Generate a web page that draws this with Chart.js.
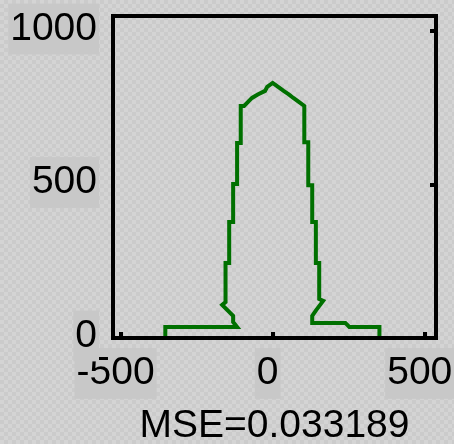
<!DOCTYPE html>
<html lang="en">
  <head>
    <meta charset="UTF-8" />
    <title>MSE histogram</title>
    <script src="https://cdn.jsdelivr.net/npm/chart.js"></script>
    <style>
      body {
        margin: 0;
        background-color: #cfcfcf;
        background-image: repeating-conic-gradient(#cbcbcb 0 25%, #d4d4d4 0 50%);
        background-size: 8px 8px;
      }
    </style>
  </head>
  <body>
    <canvas id="hist" width="454" height="444"></canvas>

    <script>
      // histogram outline
      const binX = [
        -353, -353, -117, -130, -130, -166, -155, -155, -143, -143, -130, -130,
        -117, -117, -105, -105, -94, -81, -68, -49, -25, -18, 0, 18, 36, 54, 68,
        86, 104, 104, 117, 117, 130, 130, 142, 142, 153, 153, 166, 143, 130, 130,
        239, 252, 351, 351,
      ];
      const counts = [
        0, 36, 36, 52, 72, 108, 117, 244, 244, 378, 378, 502, 502, 635, 635, 756,
        756, 769, 782, 793, 805, 818, 831, 818, 805, 793, 782, 769, 756, 638, 638,
        498, 498, 378, 378, 244, 244, 127, 121, 91, 72, 49, 49, 36, 36, 0,
      ];
      const xTicks = [-500, 0, 500];
      const yTicks = [0, 500, 1000];
      const title = "MSE=0.033189";

      const font = { family: "Liberation Sans", size: 39 };

      // black frame plus short inward ticks (bottom and right only)
      const framePlugin = {
        id: "frame",
        afterDatasetsDraw(chart) {
          const { ctx, chartArea: a, scales } = chart;
          ctx.save();
          ctx.fillStyle = "#000";
          scales.x.ticks.forEach((t) => {
            const px = Math.round(scales.x.getPixelForValue(t.value));
            ctx.fillRect(px - 2, a.bottom - 6, 4, 4);
          });
          scales.y.ticks.forEach((t) => {
            const py = Math.round(scales.y.getPixelForValue(t.value));
            ctx.fillRect(a.right - 6, py - 2, 4, 4);
          });
          ctx.strokeStyle = "#000";
          ctx.lineWidth = 4;
          ctx.strokeRect(a.left, a.top, a.right - a.left, a.bottom - a.top);
          ctx.restore();
        },
      };

      new Chart(document.getElementById("hist"), {
        type: "scatter",
        data: {
          datasets: [
            {
              data: binX.map((x, i) => ({ x: x, y: counts[i] })),
              showLine: true,
              borderColor: "#007000",
              borderWidth: 4,
              borderJoinStyle: "miter",
              pointRadius: 0,
              tension: 0,
            },
          ],
        },
        options: {
          responsive: false,
          animation: false,
          events: [],
          layout: { padding: { top: 16, right: 18, left: 0, bottom: 0 } },
          plugins: { legend: { display: false }, tooltip: { enabled: false } },
          scales: {
            x: {
              type: "linear",
              min: -525,
              max: 537,
              afterBuildTicks: (s) => (s.ticks = xTicks.map((v) => ({ value: v }))),
              afterFit: (s) => {
                s.height = 106;
                s.paddingLeft = 0;
                s.paddingRight = 0;
              },
              grid: { display: false },
              border: { display: false },
              ticks: {
                font: font,
                color: "#000",
                padding: 4,
                labelOffset: -5,
                maxRotation: 0,
                callback: (v) => String(v),
                showLabelBackdrop: true,
                backdropColor: "#c8c8c8",
                backdropPadding: 2,
              },
              title: {
                display: true,
                text: title,
                color: "#000",
                font: { family: "Liberation Sans", size: 39, lineHeight: "36px" },
                padding: 0,
              },
            },
            y: {
              min: 0,
              max: 1049,
              afterBuildTicks: (s) => (s.ticks = yTicks.map((v) => ({ value: v }))),
              afterFit: (s) => {
                s.width = 113;
                s.paddingTop = 0;
                s.paddingBottom = 0;
              },
              grid: { display: false },
              border: { display: false },
              ticks: {
                font: font,
                color: "#000",
                padding: 8,
                labelOffset: -2,
                callback: (v) => String(v),
                showLabelBackdrop: true,
                backdropColor: "#c8c8c8",
                backdropPadding: 2,
              },
            },
          },
        },
        plugins: [framePlugin],
      });
    </script>
  </body>
</html>
